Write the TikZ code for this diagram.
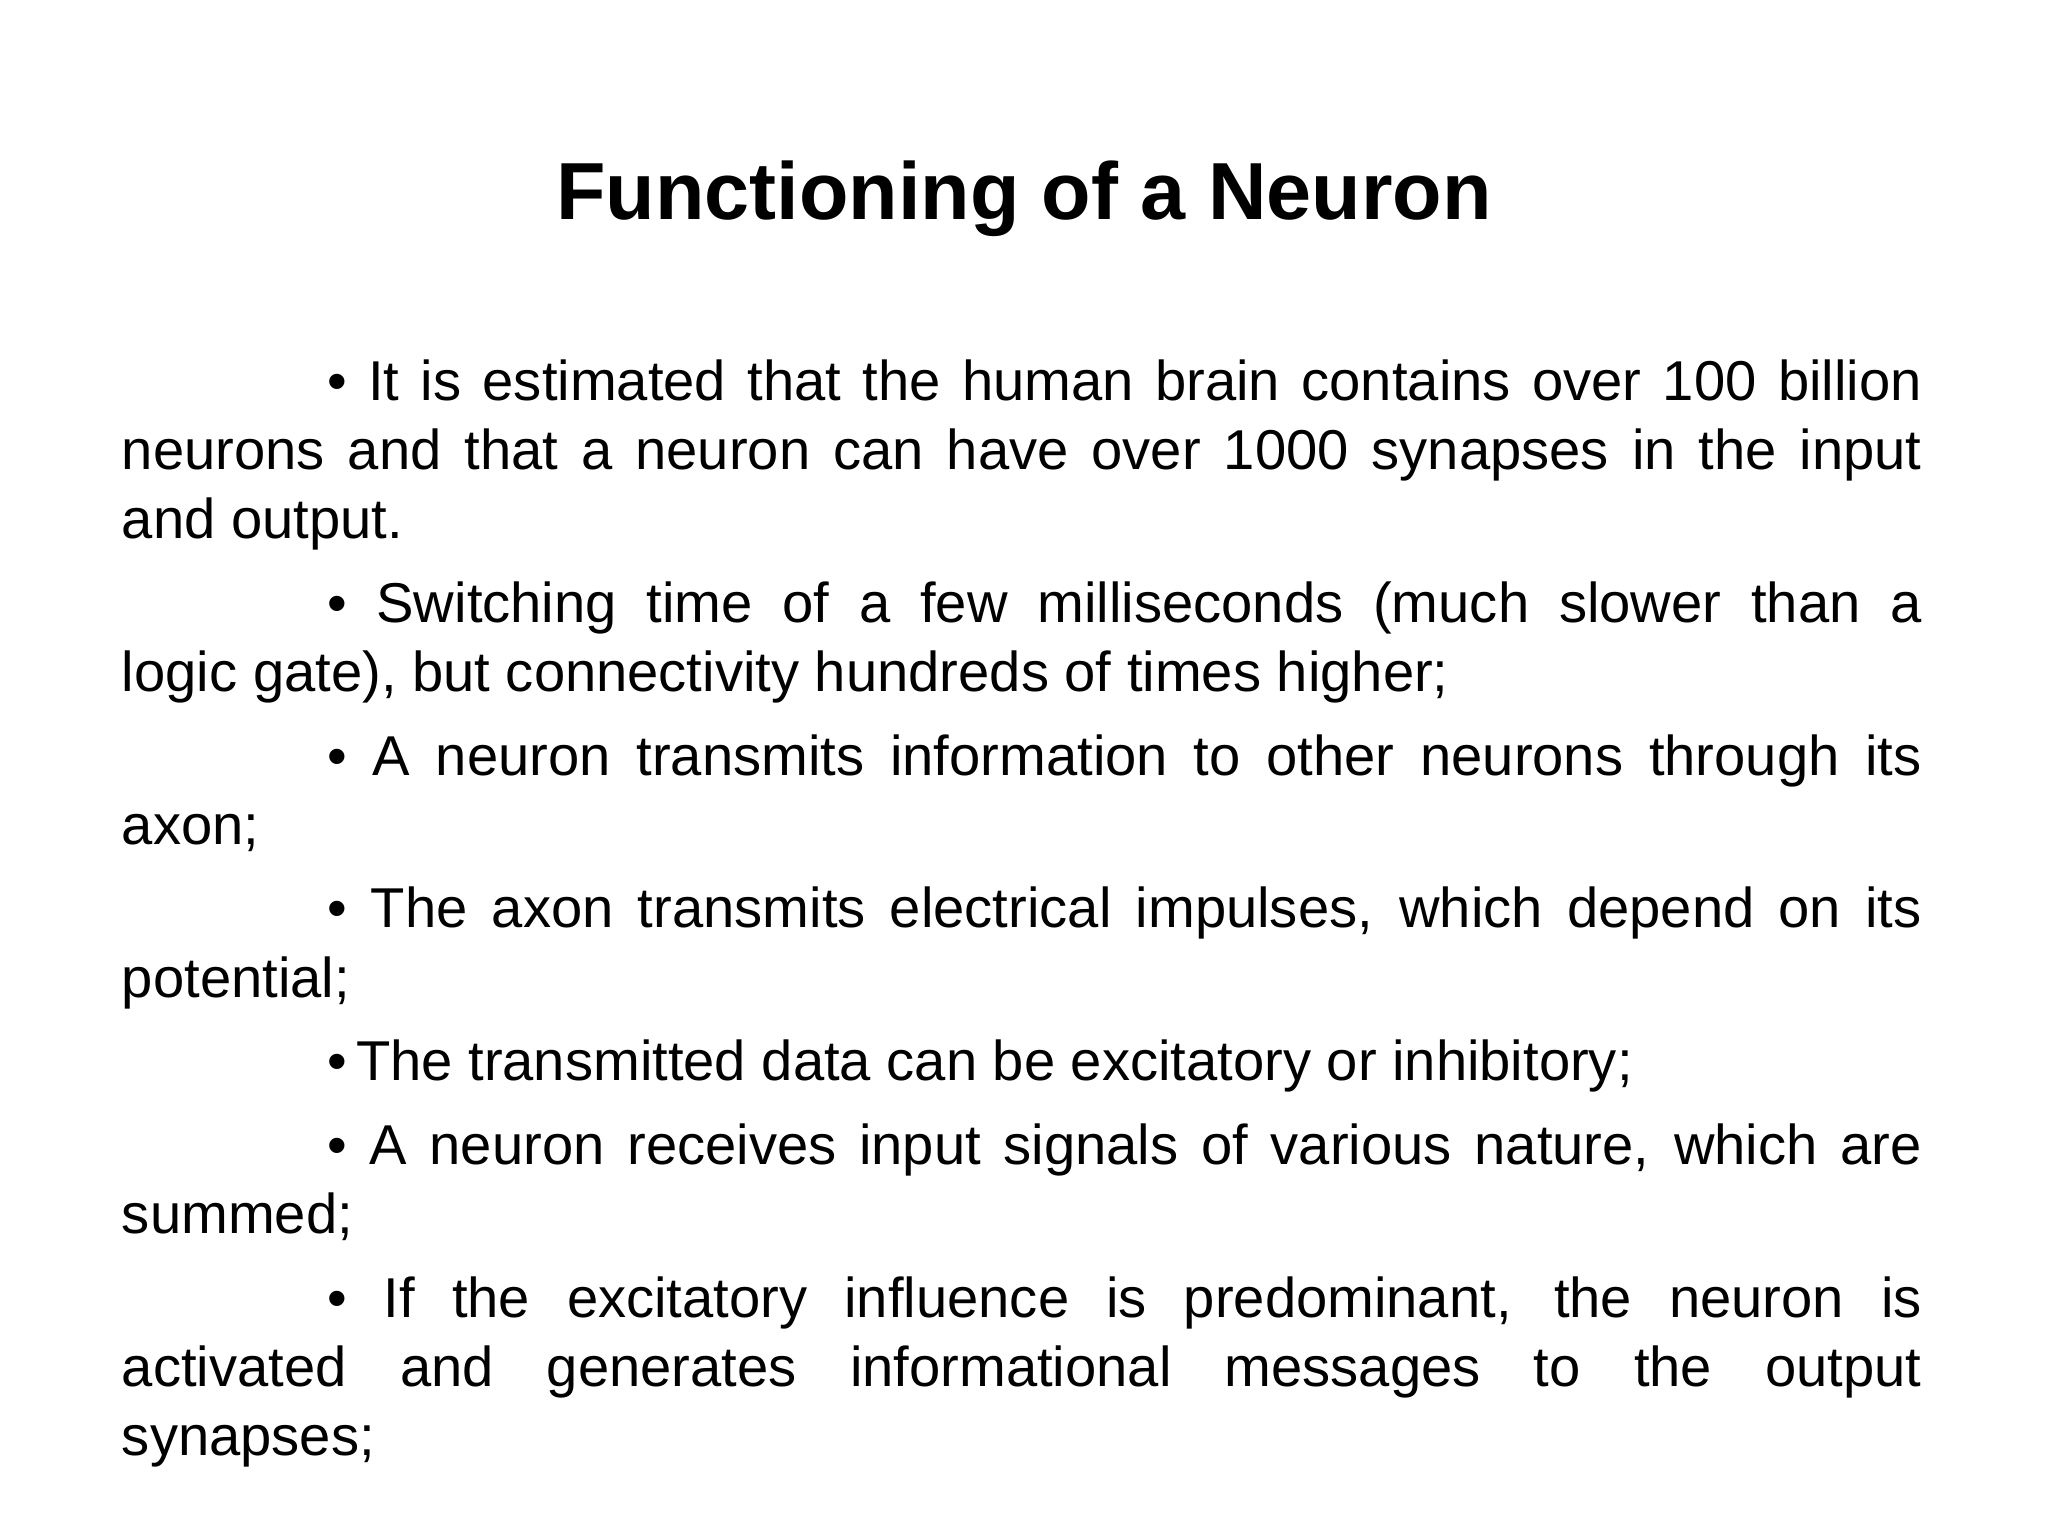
\documentclass[tikz,border=0pt]{standalone}
\usepackage{fontspec}
\setmainfont{Liberation Sans}
\begin{document}
\begin{tikzpicture}[x=0.5pt,y=-0.5pt,
  body/.style={anchor=north west,inner sep=0pt,text width=689pt,align=justify,font=\fontsize{21.5}{26.5}\selectfont}]
\useasboundingbox[fill=white] (0,0) rectangle (1568,1176);
\node[anchor=base,inner sep=0pt,font=\fontsize{31}{36}\selectfont\bfseries] (title) at (784,168) {Functioning of a Neuron};
\node[body] (txt) at (93,242) {\setlength\parindent{78.5pt}\setlength\parskip{5.5pt}\hyphenpenalty=10000 \exhyphenpenalty=10000 \par
\textbullet{} It is estimated that the human brain contains over 100 billion\linebreak neurons and that a neuron can have over 1000 synapses in the input\linebreak and output.\par
\textbullet{} Switching time of a few milliseconds (much slower than a\linebreak logic gate), but connectivity hundreds of times higher;\par
\textbullet{} A neuron transmits information to other neurons through its\linebreak axon;\par
\textbullet{} The axon transmits electrical impulses, which depend on its\linebreak potential;\par
\textbullet\,The transmitted data can be excitatory or inhibitory;\par
\textbullet{} A neuron receives input signals of various nature, which are\linebreak summed;\par
\textbullet{} If the excitatory influence is predominant, the neuron is\linebreak activated and generates informational messages to the output\linebreak synapses;\par};
\end{tikzpicture}
\end{document}
